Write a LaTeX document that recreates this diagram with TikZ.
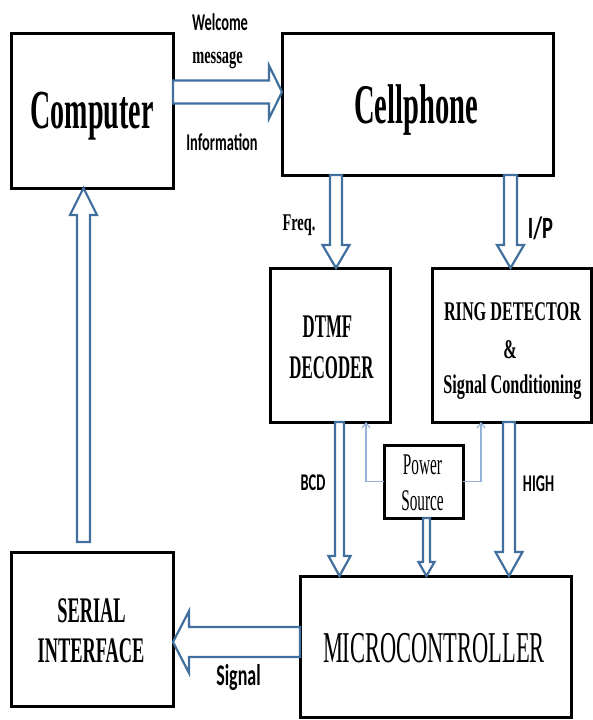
\documentclass[tikz,border=0pt]{standalone}
\usepackage{fontspec}
\usetikzlibrary{calc,arrows.meta}
\newfontfamily\tbig[FakeStretch=0.51]{Liberation Serif}
\newfontfamily\tmid[FakeStretch=0.6]{Liberation Serif}
\newfontfamily\calb[FakeStretch=0.6]{Carlito}
\newfontfamily\calw[FakeStretch=0.66]{Carlito}
\newcommand\fsz[1]{\fontsize{#1}{#1}\selectfont}
\definecolor{arrblue}{HTML}{41709F}
\definecolor{lightblue}{HTML}{95B3D7}
\tikzset{
  blk/.style={draw=black, line width=3pt, fill=white, inner sep=0pt, outer sep=0pt},
  hollow/.style={draw=arrblue, line width=2.2pt, fill=white, line join=miter},
  thinarr/.style={draw=lightblue, line width=1.2pt, -{Straight Barb[length=5pt,width=8pt]}},
  lbl/.style={anchor=base, inner sep=0pt}
}
\newcommand\hollowarr[5]{%
  \coordinate (hb) at ($(#2)!#5!(#1)$);
  \draw[hollow] ($(#1)!#3!90:(#2)$) -- ($(hb)!#3!90:(#2)$) -- ($(hb)!#4!90:(#2)$) -- (#2)
    -- ($(hb)!#4!-90:(#2)$) -- ($(hb)!#3!-90:(#2)$) -- ($(#1)!#3!-90:(#2)$) -- cycle;}
\begin{document}
\begin{tikzpicture}[x=1pt,y=-1pt]
\useasboundingbox[fill=white] (0,0) rectangle (593,720);
% boxes
\node[blk, minimum width=162pt, minimum height=155pt] (comp) at (92,110.5) {};
\node[blk, minimum width=271pt, minimum height=142pt] (cell) at (417.5,104) {};
\node[blk, minimum width=120pt, minimum height=154pt] (dtmf) at (330,345) {};
\node[blk, minimum width=159pt, minimum height=154pt] (ring) at (511.5,345) {};
\node[blk, minimum width=79pt, minimum height=73pt] (power) at (423.5,481.5) {};
\node[blk, minimum width=271pt, minimum height=141pt] (mcu) at (435.5,646.5) {};
\node[blk, minimum width=162pt, minimum height=154pt] (serial) at (92,629) {};
% hollow arrows
\coordinate (a1s) at ([yshift=18.5pt]comp.east);
\coordinate (a1t) at (a1s -| cell.west);
\hollowarr{a1s}{a1t}{11.5pt}{26.5pt}{13pt}
\coordinate (a2t) at ([xshift=6pt]dtmf.north);
\coordinate (a2s) at (a2t |- cell.south);
\hollowarr{a2s}{a2t}{6pt}{13.5pt}{23pt}
\coordinate (a3t) at ([xshift=-1pt]ring.north);
\coordinate (a3s) at (a3t |- cell.south);
\hollowarr{a3s}{a3t}{6.5pt}{13.5pt}{23pt}
\coordinate (a4t) at ([xshift=-8.5pt]comp.south);
\coordinate (a4b) at (a4t |- serial.north);
\coordinate (a4s) at ([yshift=10pt]a4b);
\hollowarr{a4s}{a4t}{6.5pt}{13.5pt}{27pt}
\coordinate (a5s) at ([xshift=9.5pt]dtmf.south);
\coordinate (a5t) at (a5s |- mcu.north);
\hollowarr{a5s}{a5t}{4.5pt}{11pt}{20pt}
\coordinate (a6s) at ([xshift=3pt]power.south);
\coordinate (a6t) at (a6s |- mcu.north);
\hollowarr{a6s}{a6t}{3.5pt}{8pt}{14pt}
\coordinate (a7s) at ([xshift=-2.5pt]ring.south);
\coordinate (a7t) at (a7s |- mcu.north);
\hollowarr{a7s}{a7t}{6pt}{13.5pt}{24pt}
\coordinate (a8s) at ([yshift=4.5pt]mcu.west);
\coordinate (a8t) at (a8s -| serial.east);
\hollowarr{a8s}{a8t}{15pt}{31pt}{16pt}
% thin power arrows
\draw[thinarr] (power.west) -| ([xshift=36pt]dtmf.south);
\draw[thinarr] (power.east) -| ([xshift=-30.5pt]ring.south);
% box texts
\node[lbl, font=\tbig\bfseries\fsz{55}] (tcomp) at (92,128) {Computer};
\node[lbl, font=\tbig\bfseries\fsz{56}] (tcell) at (416,123) {Cellphone};
\node[lbl, font=\tbig\bfseries\fsz{33}] (tdtmf1) at (327.5,337) {DTMF};
\node[lbl, font=\tbig\bfseries\fsz{33}] (tdtmf2) at (331.5,378) {DECODER};
\node[lbl, font=\tmid\bfseries\fsz{27}] (tring1) at (512.5,320) {RING DETECTOR};
\node[lbl, font=\tmid\bfseries\fsz{27}] (tamp) at (510,358) {\&};
\node[lbl, font=\tmid\bfseries\fsz{27}] (tring2) at (512.5,393) {Signal Conditioning};
\node[lbl, font=\tbig\fsz{44}] (tmcu) at (434,662) {MICROCONTROLLER};
\node[lbl, font=\tbig\bfseries\fsz{36}] (tser1) at (91.5,622) {SERIAL};
\node[lbl, font=\tbig\bfseries\fsz{36}] (tser2) at (91,662) {INTERFACE};
\node[lbl, font=\tbig\fsz{30}] (tpow1) at (422.5,474) {Power};
\node[lbl, font=\tbig\fsz{30}] (tpow2) at (422.5,510) {Source};
% connector labels
\node[lbl, font=\calb\bfseries\fsz{24}] (lwel) at (220,30) {Welcome};
\node[lbl, font=\tmid\bfseries\fsz{24}] (lmsg) at (217.5,63) {message};
\node[lbl, font=\calb\bfseries\fsz{24}] (linfo) at (222,150) {Information};
\node[lbl, font=\tmid\bfseries\fsz{24}] (lfreq) at (299,230) {Freq.};
\node[lbl, font=\calw\bfseries\fsz{31}] (lip) at (540.5,238) {I/P};
\node[lbl, font=\calb\bfseries\fsz{24}] (lbcd) at (313,490) {BCD};
\node[lbl, font=\calb\bfseries\fsz{24}] (lhigh) at (538.5,491) {HIGH};
\node[lbl, font=\calb\bfseries\fsz{30}] (lsig) at (238.5,685) {Signal};
\end{tikzpicture}
\end{document}
